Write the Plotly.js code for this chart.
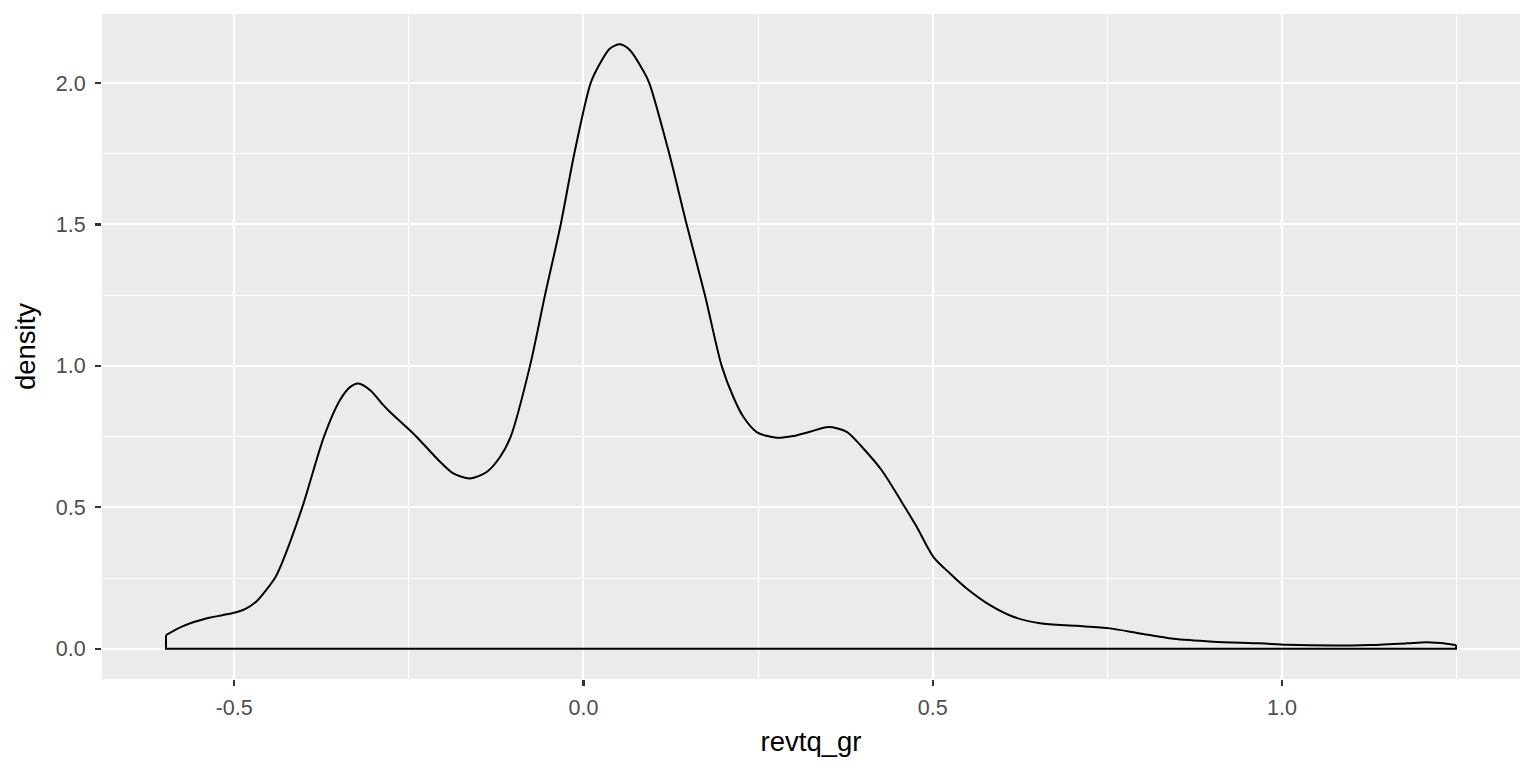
<!DOCTYPE html>
<html>
<head>
<meta charset="utf-8">
<script src="https://cdn.plot.ly/plotly-3.0.1.min.js"></script>
<style>html,body{margin:0;padding:0;background:#fff}#chart{width:1536px;height:768px}</style>
</head>
<body>
<div id="chart"></div>
<script>
// Density curve of revtq_gr
const revtqGr = [-0.5977, -0.5734, -0.5390, -0.5018, -0.4846, -0.4675, -0.4488, -0.4417, -0.4317, -0.4026,
  -0.3715, -0.3486, -0.3343, -0.3224, -0.3053, -0.2866, -0.2770, -0.2412, -0.2054, -0.1864,
  -0.1625, -0.1386, -0.1195, -0.1042, -0.0766, -0.0551, -0.0326, -0.0132, 0.0103, 0.0236,
  0.0379, 0.0523, 0.0666, 0.0852, 0.0942, 0.1228, 0.1477, 0.1739, 0.1978, 0.2145,
  0.2288, 0.2480, 0.2766, 0.3004, 0.3243, 0.3505, 0.3768, 0.4006, 0.4269, 0.4555,
  0.4770, 0.5008, 0.5247, 0.5486, 0.5820, 0.6153, 0.6535, 0.7061, 0.7538, 0.7967,
  0.8444, 0.9016, 0.9685, 1.0067, 1.0734, 1.1260, 1.1785, 1.2072, 1.2358, 1.2491];
const density = [0.048, 0.080, 0.108, 0.126, 0.140, 0.169, 0.225, 0.250, 0.303, 0.500,
  0.750, 0.879, 0.925, 0.938, 0.914, 0.861, 0.837, 0.755, 0.661, 0.620,
  0.602, 0.625, 0.678, 0.750, 1.000, 1.250, 1.500, 1.750, 2.000, 2.069,
  2.122, 2.137, 2.116, 2.045, 2.000, 1.750, 1.500, 1.250, 1.000, 0.890,
  0.820, 0.766, 0.746, 0.752, 0.767, 0.784, 0.767, 0.708, 0.631, 0.519,
  0.431, 0.325, 0.266, 0.213, 0.154, 0.113, 0.090, 0.081, 0.072, 0.054,
  0.035, 0.025, 0.019, 0.014, 0.011, 0.013, 0.019, 0.023, 0.018, 0.013];
const xTicks = [-0.5, 0.0, 0.5, 1.0];
const xTickLabels = ["-0.5", "0.0", "0.5", "1.0"];
const yTicks = [0.0, 0.5, 1.0, 1.5, 2.0];
const yTickLabels = ["0.0", "0.5", "1.0", "1.5", "2.0"];

const first = revtqGr[0], last = revtqGr[revtqGr.length - 1];

// upper density curve
const curve = {
  x: revtqGr, y: density, type: 'scatter', mode: 'lines',
  line: {color: '#000000', width: 2, shape: 'spline', smoothing: 0.8},
  hoverinfo: 'skip', showlegend: false
};
// closing edges of the polygon (left edge, baseline, right edge)
const outline = {
  x: [first, first, last, last],
  y: [density[0], 0, 0, density[density.length - 1]],
  type: 'scatter', mode: 'lines',
  line: {color: '#000000', width: 2},
  hoverinfo: 'skip', showlegend: false
};

const fam = 'Liberation Sans, Arial, sans-serif';
const layout = {
  width: 1536, height: 768,
  paper_bgcolor: '#ffffff', plot_bgcolor: '#EBEBEB',
  margin: {l: 102, r: 16, t: 14, b: 89, pad: 0},
  font: {family: fam},
  showlegend: false,
  xaxis: {
    range: [-0.6893, 1.3407], tickvals: xTicks, ticktext: xTickLabels,
    showgrid: true, gridcolor: '#ffffff', gridwidth: 2,
    minor: {dtick: 0.25, tick0: -0.25, showgrid: true, gridcolor: '#ffffff', gridwidth: 1, ticks: ''},
    zeroline: false, showline: false,
    ticks: 'outside', ticklen: 6, tickwidth: 2.2, tickcolor: '#333333',
    tickfont: {family: fam, size: 21.5, color: '#4D4D4D'},
    ticklabelstandoff: 3,
    title: {text: 'revtq_gr', font: {family: fam, size: 27.5, color: '#000000'}, standoff: 12}
  },
  yaxis: {
    range: [-0.107, 2.244], tickvals: yTicks, ticktext: yTickLabels,
    showgrid: true, gridcolor: '#ffffff', gridwidth: 2,
    minor: {dtick: 0.25, tick0: 0.25, showgrid: true, gridcolor: '#ffffff', gridwidth: 1, ticks: ''},
    zeroline: false, showline: false,
    ticks: 'outside', ticklen: 6, tickwidth: 2.2, tickcolor: '#333333',
    tickfont: {family: fam, size: 21.5, color: '#4D4D4D'},
    ticklabelstandoff: 5,
    title: {text: 'density', font: {family: fam, size: 27.5, color: '#000000'}, standoff: 12}
  }
};

Plotly.newPlot('chart', [outline, curve], layout, {displayModeBar: false, staticPlot: true});
</script>
</body>
</html>
